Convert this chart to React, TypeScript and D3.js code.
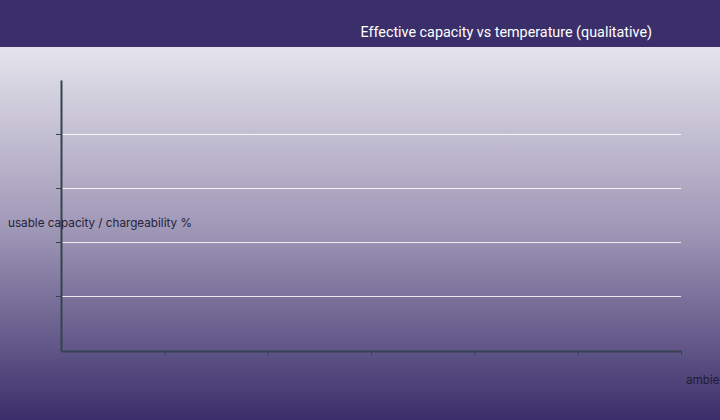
import { useEffect, useRef } from "react";
import * as d3 from "d3";

// Qualitative chart: the data series are empty, only the frame is drawn.
const xTicks: number[] = [1, 2, 3, 4, 5, 6];
const yTicks: number[] = [1, 2, 3, 4];
const xDomain: [number, number] = [0, 6];
const yDomain: [number, number] = [0, 5];

const title = "Effective capacity vs temperature (qualitative)";
const xLabel = "ambient temperature (°C)";
const yLabel = "usable capacity / chargeability %";

const W = 720;
const H = 420;

export default function App() {
  const ref = useRef<SVGSVGElement | null>(null);

  useEffect(() => {
    document.body.style.margin = "0";
    if (!ref.current) return;

    const svg = d3.select(ref.current);
    svg.selectAll("*").remove();

    const margin = { top: 80, right: 39, bottom: 69, left: 61 };
    const width = W - margin.left - margin.right;
    const height = H - margin.top - margin.bottom;

    const defs = svg.append("defs");
    const grad = defs
      .append("linearGradient")
      .attr("id", "bg")
      .attr("x1", 0)
      .attr("y1", 0)
      .attr("x2", 0)
      .attr("y2", 1);
    grad.append("stop").attr("offset", "0%").attr("stop-color", "#e5e4ec");
    grad.append("stop").attr("offset", "50%").attr("stop-color", "#9d95b5");
    grad.append("stop").attr("offset", "100%").attr("stop-color", "#3a2e6a");

    svg
      .append("rect")
      .attr("x", 0)
      .attr("y", 47)
      .attr("width", W)
      .attr("height", H - 47)
      .attr("fill", "url(#bg)");

    // header band
    svg
      .append("rect")
      .attr("x", 0)
      .attr("y", 0)
      .attr("width", W)
      .attr("height", 47)
      .attr("fill", "#3b2f6b");

    svg
      .append("text")
      .attr("x", 652)
      .attr("y", 37)
      .attr("text-anchor", "end")
      .attr("fill", "#ffffff")
      .style("font-family", "Roboto, sans-serif")
      .style("font-size", "14.35px")
      .text(title);

    const x = d3.scaleLinear().domain(xDomain).range([0, width]);
    const y = d3.scaleLinear().domain(yDomain).range([height, 0]);

    const g = svg
      .append("g")
      .attr("transform", `translate(${margin.left},${margin.top})`);

    // gridlines
    g.selectAll("line.grid")
      .data(yTicks)
      .join("line")
      .attr("class", "grid")
      .attr("x1", 0)
      .attr("x2", width)
      .attr("y1", (d) => Math.floor(y(d)) + 0.5)
      .attr("y2", (d) => Math.floor(y(d)) + 0.5)
      .attr("stroke", "#ffffff")
      .attr("stroke-opacity", 0.85)
      .attr("stroke-width", 1);

    const axisColor = "#36424f";

    const yAxis = g
      .append("g")
      .call(
        d3
          .axisLeft(y)
          .tickValues(yTicks)
          .tickSize(5)
          .tickSizeOuter(0)
          .tickFormat(() => "")
      );
    yAxis.select(".domain").attr("stroke", axisColor).attr("stroke-width", 2);
    yAxis
      .selectAll(".tick")
      .attr("transform", (d: any) => `translate(0,${Math.floor(y(d)) + 0.5})`);
    yAxis.selectAll("line").attr("stroke", axisColor);

    const xAxis = g
      .append("g")
      .attr("transform", `translate(0,${height})`)
      .call(
        d3
          .axisBottom(x)
          .tickValues(xTicks)
          .tickSize(4)
          .tickSizeOuter(0)
          .tickFormat(() => "")
      );
    xAxis.select(".domain").attr("stroke", axisColor).attr("stroke-width", 2);
    xAxis.selectAll("line").attr("stroke", axisColor);

    svg
      .append("text")
      .attr("x", 8)
      .attr("y", 227)
      .attr("fill", "#262438")
      .style("font-family", "Inter, sans-serif")
      .style("font-size", "11.7px")
      .text(yLabel);

    svg
      .append("text")
      .attr("x", 686)
      .attr("y", 384)
      .attr("fill", "#1f1c33")
      .style("font-family", "Inter, sans-serif")
      .style("font-size", "11.7px")
      .text(xLabel);
  }, []);

  return (
    <svg
      ref={ref}
      width={W}
      height={H}
      style={{ display: "block", position: "absolute", left: 0, top: 0 }}
    ></svg>
  );
}
